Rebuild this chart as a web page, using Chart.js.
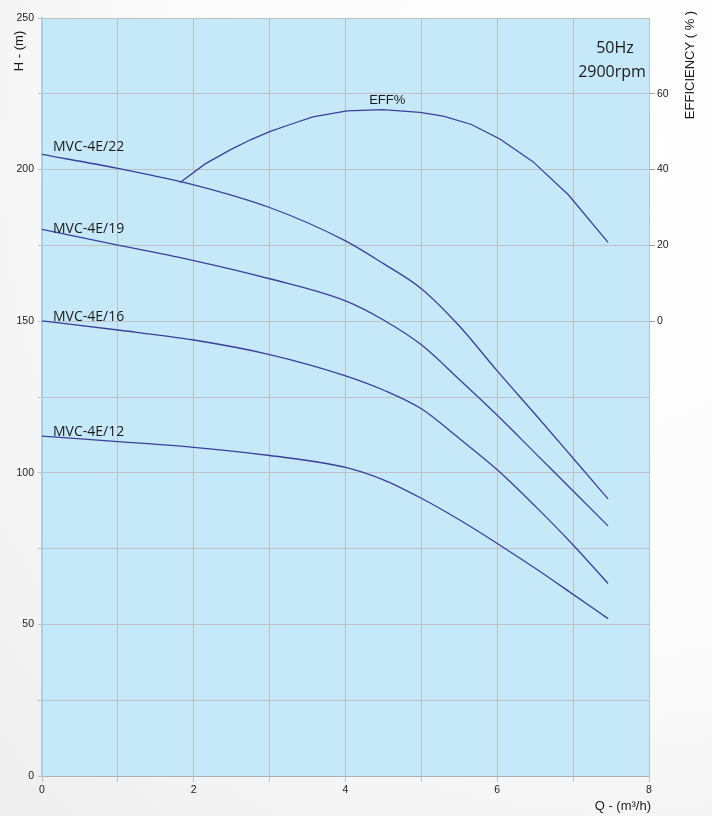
<!DOCTYPE html>
<html>
<head>
<meta charset="utf-8">
<script src="https://cdn.jsdelivr.net/npm/chart.js@4.4.1/dist/chart.umd.min.js"></script>
<style>
  html, body { margin: 0; padding: 0; }
  body {
    width: 712px;
    height: 816px;
    background: radial-gradient(ellipse at 85% 20%, #ffffff 0%, #fbfbfb 50%, #eeeeee 100%);
  }
  #wrap { position: relative; width: 712px; height: 816px; }
</style>
</head>
<body>
<div id="wrap"><canvas id="pumpChart"></canvas></div>
<script>
// flow rate Q (m3/h) where the head curves were read
const flow = [0, 1, 2, 3, 4, 4.5, 5, 5.5, 6, 6.5, 7, 7.46];

// head H (m) for each pump model
const head22 = [205, 200.4, 195, 187.5, 176.5, 169, 160.7, 148.4, 133.6, 119.3, 104.8, 91.4];
const head19 = [180.3, 175.1, 170, 164, 156.7, 150.4, 142.2, 130.8, 119, 106.5, 94, 82.5];
const head16 = [150.1, 147.1, 143.8, 139, 132, 127.3, 121.1, 111.3, 101, 89, 76.2, 63.5];
const head12 = [112.1, 110.3, 108.4, 105.7, 101.8, 97.7, 91.6, 84.5, 76.7, 68.5, 59.9, 51.9];

// efficiency curve (right axis, %)
const effFlow = [1.82, 2.15, 2.48, 2.74, 3.0, 3.27, 3.57, 4.02, 4.49, 4.98, 5.29, 5.66, 6.04, 6.47, 6.94, 7.46];
const effValues = [36.6, 41.5, 45.2, 47.8, 50, 51.9, 53.9, 55.5, 55.8, 55.1, 54.1, 51.9, 48, 42.1, 33.3, 20.8];

const modelNames = ["MVC-4E/22", "MVC-4E/19", "MVC-4E/16", "MVC-4E/12"];
const modelLabelHeads = [207.5, 180.5, 151.5, 113.5];
const xTickLabels = [0, 2, 4, 6, 8];
const yTickLabels = [0, 50, 100, 150, 200, 250];
const effTickLabels = [0, 20, 40, 60];

const lineColor = "#3a3f98";
const gridColor = "#bcc1c6";

const toPoints = (xs, ys) => xs.map((x, i) => ({ x: x, y: ys[i] }));

const headSeries = [head22, head19, head16, head12];

const datasets = headSeries.map((h, i) => ({
  label: modelNames[i],
  data: toPoints(flow, h),
  yAxisID: "y",
  borderColor: lineColor,
  borderWidth: 1.3,
  pointRadius: 0,
  showLine: true,
  cubicInterpolationMode: "monotone",
  fill: false
}));

datasets.push({
  label: "EFF%",
  data: toPoints(effFlow, effValues),
  yAxisID: "y2",
  borderColor: lineColor,
  borderWidth: 1.3,
  pointRadius: 0,
  showLine: true,
  tension: 0,
  fill: false
});

const plotBackground = {
  id: "plotBackground",
  beforeDraw(chart) {
    const { ctx, chartArea } = chart;
    ctx.save();
    ctx.fillStyle = "#c6e9f9";
    ctx.fillRect(chartArea.left, chartArea.top, chartArea.right - chartArea.left, chartArea.bottom - chartArea.top);
    ctx.restore();
  }
};

const chartTexts = {
  id: "chartTexts",
  afterDraw(chart) {
    const { ctx, scales } = chart;
    const xs = scales.x;
    const ys = scales.y;
    const y2 = scales.y2;
    ctx.save();
    ctx.fillStyle = "#1a1a1a";
    ctx.textBaseline = "middle";

    // model labels near the start of each curve
    ctx.font = "14px 'Open Sans'";
    ctx.textAlign = "left";
    modelNames.forEach((name, i) => {
      ctx.fillText(name, xs.getPixelForValue(0) + 11, ys.getPixelForValue(modelLabelHeads[i]));
    });

    // efficiency label above the curve peak
    ctx.font = "13px 'Liberation Sans'";
    ctx.textAlign = "center";
    ctx.fillText("EFF%", xs.getPixelForValue(4.55), y2.getPixelForValue(58.2));

    // speed info
    ctx.font = "16px 'Open Sans'";
    ctx.fillText("50Hz", 615, 48);
    ctx.fillText("2900rpm", 612, 72);

    // axis titles
    ctx.font = "13px 'Liberation Sans'";
    ctx.textAlign = "right";
    ctx.fillText("Q - (m\u00b3/h)", 651, 806);

    ctx.save();
    ctx.translate(19, 51);
    ctx.rotate(-Math.PI / 2);
    ctx.textAlign = "center";
    ctx.fillText("H - (m)", 0, 0);
    ctx.restore();

    ctx.save();
    ctx.translate(690, 65);
    ctx.rotate(-Math.PI / 2);
    ctx.textAlign = "center";
    ctx.fillText("EFFICIENCY ( % )", 0, 0);
    ctx.restore();

    ctx.restore();
  }
};

const tickFont = { family: "Liberation Sans", size: 10.5 };

new Chart(document.getElementById("pumpChart"), {
  type: "scatter",
  data: { datasets: datasets },
  options: {
    responsive: true,
    maintainAspectRatio: false,
    animation: false,
    layout: { padding: { top: 18, left: 0, right: 0, bottom: 0 } },
    plugins: {
      legend: { display: false },
      tooltip: { enabled: false }
    },
    scales: {
      x: {
        type: "linear",
        min: 0,
        max: 8,
        afterFit: scale => { scale.height = 40; },
        ticks: {
          stepSize: 1,
          color: "#222",
          font: tickFont,
          padding: 2,
          maxRotation: 0,
          autoSkip: false,
          callback: value => (xTickLabels.includes(value) ? String(value) : "")
        },
        grid: { color: gridColor, tickColor: gridColor, tickLength: 6, lineWidth: 1 },
        border: { color: "#a8b0b8", width: 1 }
      },
      y: {
        type: "linear",
        position: "left",
        min: 0,
        max: 250,
        afterFit: scale => { scale.width = 42; },
        ticks: {
          stepSize: 25,
          color: "#222",
          font: tickFont,
          padding: 4,
          autoSkip: false,
          callback: value => (yTickLabels.includes(value) ? String(value) : "")
        },
        grid: { color: gridColor, tickColor: gridColor, tickLength: 4, lineWidth: 1 },
        border: { color: "#a9cfe6", width: 2 }
      },
      y2: {
        type: "linear",
        position: "right",
        min: -120,
        max: 80,
        afterFit: scale => { scale.width = 63; },
        ticks: {
          stepSize: 20,
          color: "#222",
          font: tickFont,
          padding: 2,
          autoSkip: false,
          callback: value => (effTickLabels.includes(value) ? String(value) : "")
        },
        grid: {
          drawOnChartArea: false,
          tickLength: 6,
          tickColor: ctx => (ctx.tick && effTickLabels.includes(ctx.tick.value) ? "#9aa0a6" : "rgba(0,0,0,0)")
        },
        border: { color: gridColor, width: 1 }
      }
    }
  },
  plugins: [plotBackground, chartTexts]
});
</script>
</body>
</html>
